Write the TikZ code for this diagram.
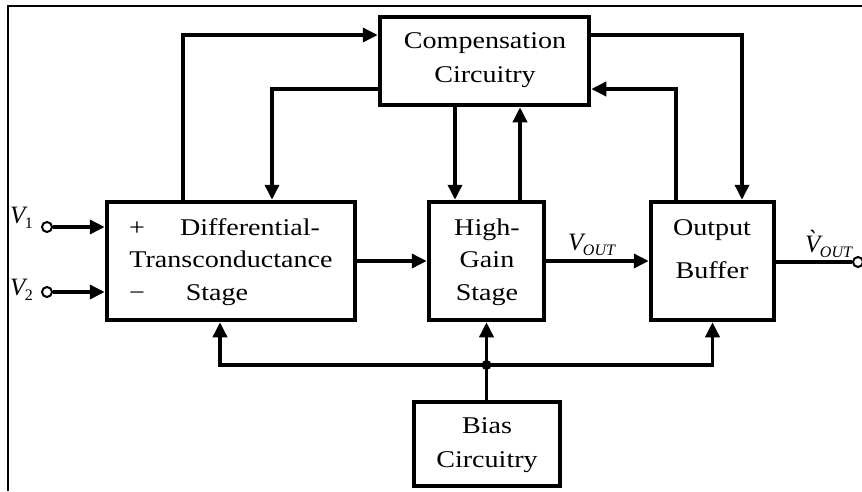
\documentclass[tikz,border=0pt]{standalone}
\usepackage{fontspec}
\setmainfont{Liberation Serif}
\usetikzlibrary{arrows.meta}
\newcommand{\sx}[1]{\scalebox{1.17}[1]{#1}}
\newcommand{\vsub}[2]{{\fontsize{25}{25}\selectfont\itshape #1\kern-0.5pt\raisebox{-5pt}{\fontsize{16}{16}\selectfont\upshape #2}}}
\begin{document}
\begin{tikzpicture}[x=1pt,y=-1pt,
  blk/.style={draw,line width=4.5pt,inner sep=0pt},
  txt/.style={font=\fontsize{24}{29}\selectfont,inner sep=0pt,anchor=base},
  lbl/.style={inner sep=0pt,anchor=base west},
  wire/.style={line width=3.5pt},
  arr/.style={wire,-{Triangle[length=15pt,width=14pt]}},
  term/.style={circle,draw,line width=2pt,fill=white,minimum size=10pt,inner sep=0pt},
  frame/.style={line width=2pt}]
\useasboundingbox (0,0) rectangle (862,491);
% frame
\coordinate (fa) at (8,491);
\coordinate (fb) at (8,6);
\coordinate (fc) at (862,6);
\draw[frame] (fa) -- (fb) -- (fc);
% blocks
\node[blk,minimum width=209pt,minimum height=88pt] (comp) at (484.5,61) {};
\node[blk,minimum width=248pt,minimum height=118pt] (diff) at (231,261) {};
\node[blk,minimum width=115pt,minimum height=118pt] (hg) at (486.5,261) {};
\node[blk,minimum width=123pt,minimum height=118pt] (ob) at (712.5,261) {};
\node[blk,minimum width=146pt,minimum height=84pt] (bias) at (487,444) {};
% texts
\node[txt] (tc1) at (485,48) {\sx{Compensation}};
\node[txt] (tc2) at (485,82) {\sx{Circuitry}};
\node[txt] (tdp) at (137,235) {\sx{+}};
\node[txt] (td1) at (250,235) {\sx{Differential-}};
\node[txt] (td2) at (231,267) {\sx{Transconductance}};
\node[txt] (tdm) at (137,300) {\sx{−}};
\node[txt] (td3) at (217,300) {\sx{Stage}};
\node[txt] (th1) at (487,235) {\sx{High-}};
\node[txt] (th2) at (487,267) {\sx{Gain}};
\node[txt] (th3) at (487,300) {\sx{Stage}};
\node[txt] (to1) at (712,235) {\sx{Output}};
\node[txt] (to2) at (712,278) {\sx{Buffer}};
\node[txt] (tb1) at (487,433) {\sx{Bias}};
\node[txt] (tb2) at (487,467) {\sx{Circuitry}};
% terminals
\node[term] (in1) at (47,227) {};
\node[term] (in2) at (47,292) {};
\node[term] (out) at (858,262) {};
\node[lbl] (lv1) at (10,223) {\vsub{V}{1}};
\node[lbl] (lv2) at (10,295) {\vsub{V}{2}};
\node[lbl] (lvo) at (568,250) {\vsub{V}{\itshape OUT}};
\node[lbl] (lvo2) at (805,252) {\vsub{\`{V}}{\itshape OUT}};
% inputs
\draw[arr] (in1) -- (diff.west |- in1);
\draw[arr] (in2) -- (diff.west |- in2);
% main path
\draw[arr] (diff) -- (hg);
\draw[arr] (hg) -- (ob);
\draw[wire] (ob.east |- out) -- (out);
% feedback routes
\coordinate (k1) at (183,35);
\draw[arr] (diff.north -| k1) -- (k1) -- (comp.west |- k1);
\coordinate (k2) at (272,89);
\draw[arr] (comp.west |- k2) -- (k2) -- (diff.north -| k2);
\coordinate (k3) at (455,0);
\draw[arr] (comp.south -| k3) -- (hg.north -| k3);
\coordinate (k4) at (520,0);
\draw[arr] (hg.north -| k4) -- (comp.south -| k4);
\coordinate (k5) at (742,35);
\draw[arr] (comp.east |- k5) -- (k5) -- (ob.north -| k5);
\coordinate (k6) at (676,89);
\draw[arr] (ob.north -| k6) -- (k6) -- (comp.east |- k6);
% bias bus
\coordinate (j) at (486.5,365);
\coordinate (jl) at (220,365);
\draw[wire] (bias.north -| j) -- (j);
\draw[arr] (j) -- (hg.south -| j);
\draw[arr] (j) -- (jl) -- (diff.south -| jl);
\draw[arr] (j) -- (ob.south |- j) -- (ob.south);
\fill (j) circle (5pt);
\end{tikzpicture}
\end{document}
